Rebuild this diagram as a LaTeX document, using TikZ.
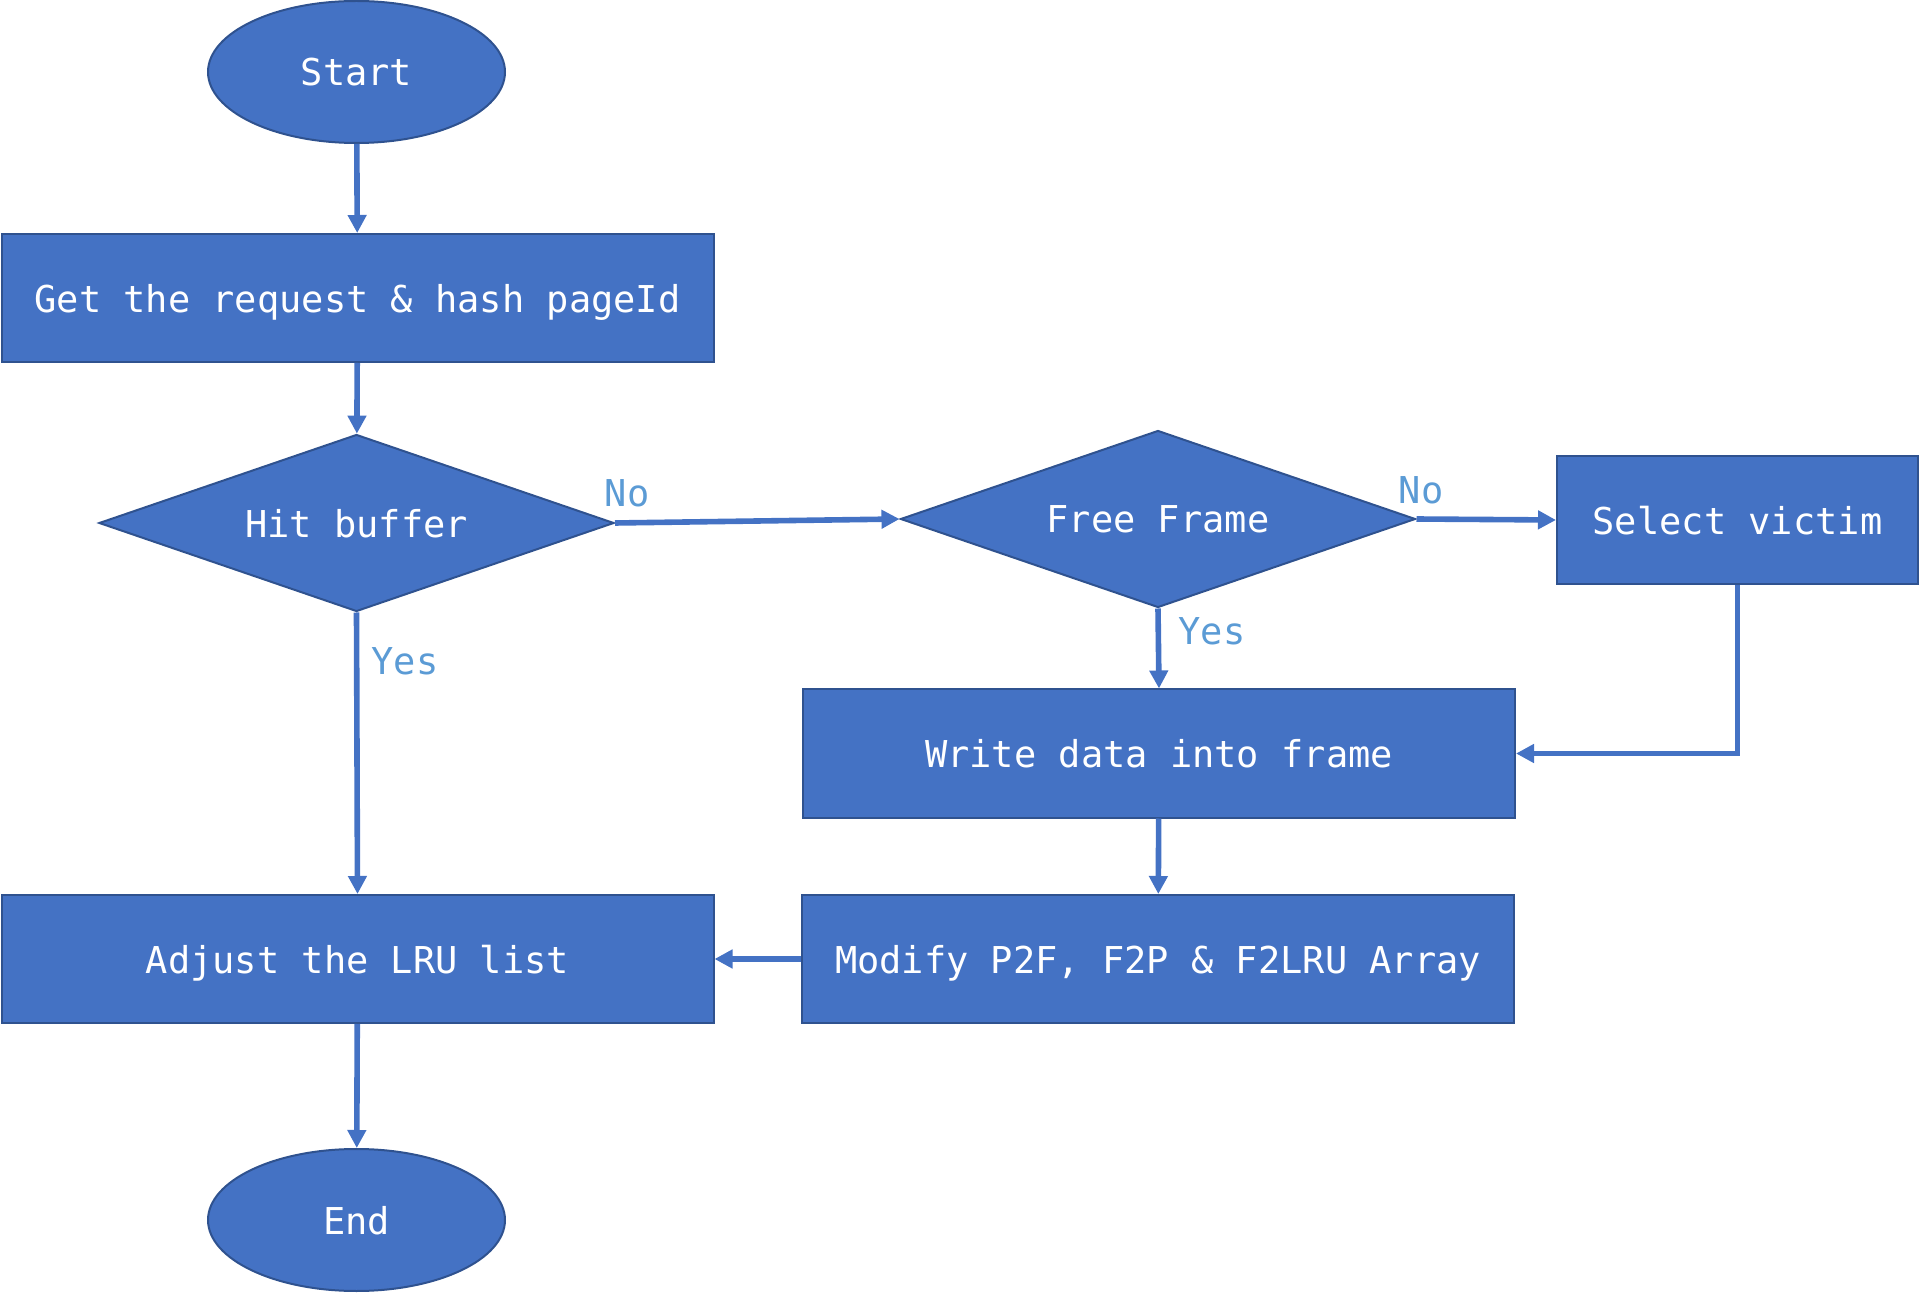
\documentclass[tikz,border=0pt]{standalone}
\usepackage{fontspec}
\setmonofont{DejaVu Sans Mono}
\usetikzlibrary{shapes.geometric,arrows.meta}
\definecolor{boxfill}{HTML}{4472C4}
\definecolor{boxline}{HTML}{2F528F}
\definecolor{lbl}{HTML}{5B9BD5}
\begin{document}
\begin{tikzpicture}[x=0.5pt,y=-0.5pt,
  base/.style={fill=boxfill,draw=boxline,line width=1pt,text=white,
    font=\ttfamily\fontsize{18.5pt}{22pt}\selectfont,inner sep=0pt,text depth=0pt},
  proc/.style={base,rectangle,minimum width=#1,minimum height=64pt},
  term/.style={base,ellipse,minimum width=148.5pt,minimum height=71pt},
  dec/.style={base,diamond,shape aspect=2.9,minimum width=257.5pt,minimum height=88.5pt},
  conn/.style={draw=boxfill,line width=2.8pt,-{Triangle[length=9pt,width=9pt]}},
  lab/.style={text=lbl,font=\ttfamily\fontsize{18.5pt}{22pt}\selectfont,inner sep=0pt}
]
\useasboundingbox (0,0) rectangle (1919,1294);
\node[term] (start) at (356.5,72) {Start};
\node[proc=356pt] (get) at (357.5,298) {Get the request \& hash pageId};
\node[dec] (hit) at (356.5,523) {Hit buffer};
\node[dec] (free) at (1158,519) {Free Frame};
\node[proc=180.5pt] (sel) at (1737.5,520) {Select victim};
\node[proc=356pt] (write) at (1159,753.5) {Write data into frame};
\node[proc=356pt] (mod) at (1158,959) {Modify P2F, F2P \& F2LRU Array};
\node[proc=356pt] (adj) at (357.5,959) {Adjust the LRU list};
\node[term] (end) at (356.5,1220) {End};

\draw[conn] (start) -- (get);
\draw[conn] (get) -- (hit);
\draw[conn] (hit.east) -- (free.west);
\draw[conn] (free.east) -- (sel.west);
\draw[conn] (free.south) -- (write.north);
\draw[conn] (sel.south) |- (write.east);
\draw[conn] (write) -- (mod);
\draw[conn] (mod) -- (adj);
\draw[conn] (hit.south) -- (adj.north);
\draw[conn] (adj) -- (end);

\node[lab] (no1) at (627,493) {No};
\node[lab] (no2) at (1421,490) {No};
\node[lab] (yes1) at (1212,631) {Yes};
\node[lab] (yes2) at (405,661) {Yes};
\end{tikzpicture}
\end{document}
